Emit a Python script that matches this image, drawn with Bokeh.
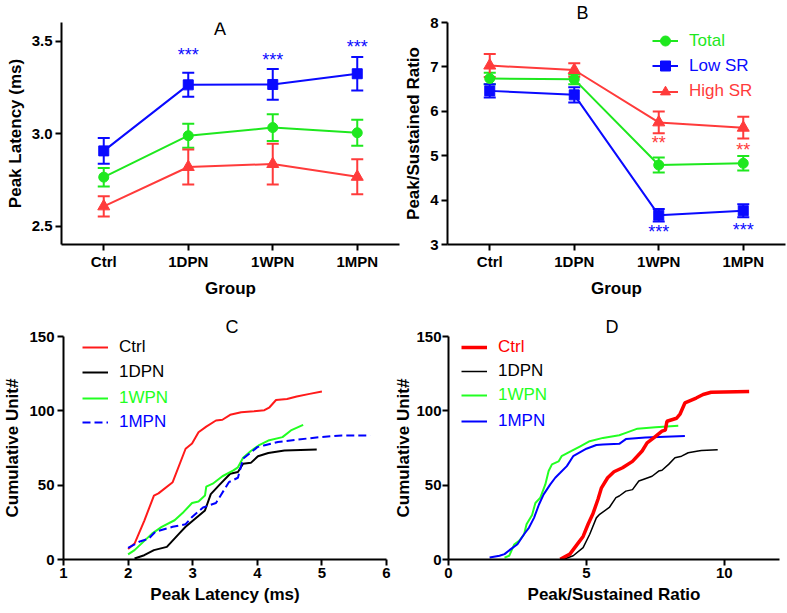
from bokeh.plotting import figure
from bokeh.models import (FactorRange, Range1d, FixedTicker, Whisker, TeeHead, ColumnDataSource,
                          Legend, LegendItem, Label, Title, PrintfTickFormatter)
from bokeh.layouts import column, row
from bokeh.embed import file_html
from bokeh.resources import INLINE
from bokeh.core.properties import value

FONT = "Liberation Sans"

# ---------------- data ----------------
groups = ["Ctrl", "1DPN", "1WPN", "1MPN"]

# Panel A: peak latency (ms), mean and SEM
lat_total = [2.764, 2.988, 3.032, 3.004]
lat_total_err = [0.05, 0.065, 0.072, 0.07]
lat_low = [2.906, 3.263, 3.265, 3.323]
lat_low_err = [0.07, 0.065, 0.083, 0.09]
lat_high = [2.606, 2.819, 2.835, 2.766]
lat_high_err = [0.055, 0.095, 0.11, 0.095]
lat_star_groups = ["1DPN", "1WPN", "1MPN"]
lat_star_y = [3.426, 3.399, 3.465]
lat_star_text = ["***", "***", "***"]

# Panel B: peak/sustained ratio, mean and SEM
ratio_total = [6.74, 6.72, 4.79, 4.83]
ratio_total_err = [0.13, 0.11, 0.17, 0.165]
ratio_low = [6.46, 6.37, 3.66, 3.76]
ratio_low_err = [0.15, 0.17, 0.14, 0.145]
ratio_high = [7.03, 6.93, 5.75, 5.63]
ratio_high_err = [0.26, 0.15, 0.245, 0.245]
ratio_star_high_groups = ["1WPN", "1MPN"]
ratio_star_high_y = [5.33, 5.18]
ratio_star_high_text = ["**", "**"]
ratio_star_low_groups = ["1WPN", "1MPN"]
ratio_star_low_y = [3.32, 3.37]
ratio_star_low_text = ["***", "***"]

# Panel C: cumulative units vs peak latency
c_ctrl_x = [2.0, 2.1, 2.25, 2.4, 2.47, 2.69, 2.89, 2.99, 3.09, 3.21, 3.36, 3.46, 3.58, 3.75, 3.95,
            4.11, 4.19, 4.29, 4.46, 4.61, 4.81, 5.0]
c_ctrl_y = [7, 10.7, 26, 43, 44.5, 52, 74.5, 78, 85.6, 89.4, 93.5, 94, 97.3, 99, 99.7,
            100.4, 102.4, 107.3, 108, 109.6, 111.4, 113]
c_1dpn_x = [2.1, 2.25, 2.4, 2.6, 2.79, 2.89, 3.01, 3.19, 3.28, 3.41, 3.58, 3.7, 3.78, 3.9, 4.01,
            4.17, 4.42, 4.92]
c_1dpn_y = [0.7, 2.9, 6.3, 8.5, 17.4, 22, 26.4, 33, 44, 50, 57.7, 58.8, 64.4, 65, 69.5,
            71.6, 73.3, 74]
c_1wpn_x = [2.0, 2.1, 2.37, 2.52, 2.72, 2.86, 2.99, 3.09, 3.19, 3.21, 3.31, 3.46, 3.63, 3.7, 3.78,
            3.9, 4.02, 4.17, 4.39, 4.52, 4.71]
c_1wpn_y = [3.4, 6.3, 17.4, 21.9, 26.4, 32, 38, 39, 43, 49, 51, 56, 60, 62, 68.4,
            73, 76.7, 80, 82.3, 86.8, 90.6]
c_1mpn_x = [2.0, 2.17, 2.32, 2.42, 2.69, 2.89, 2.99, 3.16, 3.36, 3.56, 3.7, 3.78, 3.9, 4.0, 4.1,
            4.32, 4.6, 4.96, 5.31, 5.75]
c_1mpn_y = [7.8, 11.9, 14, 18.6, 22, 23.7, 28.6, 35, 38, 52, 55, 67.8, 72, 75.6, 76.7,
            79, 80.5, 82.3, 83.4, 83.4]

# Panel D: cumulative units vs peak/sustained ratio
d_ctrl_x = [4.05, 4.4, 4.76, 4.88, 5.06, 5.24, 5.42, 5.54, 5.77, 6.0, 6.31, 6.67, 7.02, 7.2, 7.45,
            7.74, 7.86, 7.92, 8.27, 8.4, 8.57, 8.98, 9.23, 9.52, 10.9]
d_ctrl_y = [0.2, 3.6, 12.5, 15.5, 23.7, 31, 40.5, 48, 55, 59, 61.7, 66, 73, 78.5, 82,
            86.3, 87, 93, 95, 98, 105.3, 108.6, 111, 112.5, 113]
d_1dpn_x = [4.17, 4.52, 4.88, 5.12, 5.36, 5.48, 5.83, 6.07, 6.19, 6.43, 6.67, 6.9, 7.08, 7.38, 7.62,
            7.74, 7.98, 8.21, 8.45, 8.69, 9.05, 9.17, 9.76]
d_1dpn_y = [0.2, 2.5, 8, 17, 28, 30.4, 35, 41.6, 42.7, 46, 47, 52.8, 54, 56, 59.5,
            60, 64, 68.4, 69.5, 71.8, 73, 73.3, 73.8]
d_1wpn_x = [2.03, 2.2, 2.38, 2.56, 2.74, 2.83, 3.03, 3.15, 3.33, 3.51, 3.63, 3.75, 3.99, 4.1, 4.46,
            4.76, 5.12, 5.6, 6.19, 6.43, 6.85, 7.5, 8.33]
d_1wpn_y = [1.3, 2.5, 10, 12.5, 17, 23.7, 30, 38, 41.6, 50.5, 59.5, 64, 66, 69.5, 73,
            76, 79.6, 81.8, 83.6, 85.2, 88, 89, 90]
d_1mpn_x = [1.49, 1.85, 2.03, 2.26, 2.5, 2.74, 2.92, 3.1, 3.28, 3.45, 3.69, 3.87, 4.05, 4.29, 4.52,
            4.76, 5.0, 5.36, 5.6, 6.19, 6.43, 7.14, 8.57]
d_1mpn_y = [1.3, 2.5, 3.6, 7, 10.3, 17, 21.5, 28, 37, 43.8, 50.5, 55, 58.3, 62.8, 69.5,
            72, 74.5, 77, 77.4, 77.8, 81, 82, 83]

GREEN = "#1ee81e"
BLUE = "#0a0aff"
RED = "#ff3b3b"
C_RED = "#ff1a1a"
C_GREEN = "#22ff22"
C_BLUE = "#0000ff"


def style(p, xs_label=2, xs_axis=6, ys_label=3, ys_axis=4):
    p.outline_line_color = None
    p.xgrid.visible = False
    p.ygrid.visible = False
    p.background_fill_color = "white"
    for ax in (p.xaxis[0], p.yaxis[0]):
        ax.axis_line_width = 2
        ax.axis_line_color = "black"
        ax.major_tick_line_width = 2
        ax.major_tick_line_color = "black"
        ax.major_tick_out = 6
        ax.major_tick_in = 0
        ax.minor_tick_line_color = None
        ax.major_label_text_font = FONT
        ax.major_label_text_font_style = "bold"
        ax.major_label_text_font_size = "15px"
        ax.major_label_text_color = "black"
        ax.axis_label_text_font = FONT
        ax.axis_label_text_font_style = "bold"
        ax.axis_label_text_font_size = "17px"
        ax.axis_label_text_color = "black"
    p.yaxis[0].major_label_standoff = ys_label
    p.yaxis[0].axis_label_standoff = ys_axis
    p.xaxis[0].major_label_standoff = xs_label
    p.xaxis[0].axis_label_standoff = xs_axis


def panel_title(p, text, offset):
    p.add_layout(Title(text=text, align="left", offset=offset, standoff=0, text_font=FONT,
                       text_font_size="18px", text_font_style="normal", text_color="black"),
                 "above")


def series(p, x, y, err, color, marker, size):
    src = ColumnDataSource(dict(x=x, y=y, upper=[a + b for a, b in zip(y, err)],
                                lower=[a - b for a, b in zip(y, err)]))
    p.add_layout(Whisker(base="x", upper="upper", lower="lower", source=src, dimension="height",
                         line_color=color, line_width=2,
                         upper_head=TeeHead(size=12, line_color=color, line_width=2),
                         lower_head=TeeHead(size=12, line_color=color, line_width=2)))
    lr = p.line("x", "y", source=src, line_color=color, line_width=2)
    sr = p.scatter("x", "y", source=src, marker=marker, size=size, fill_color=color,
                   line_color=color)
    return lr, sr


def single_legend(p, label, renderers, color, loc, gh, gw=26):
    leg = Legend(items=[LegendItem(label=label, renderers=renderers)], location=loc,
                 label_text_color=color, label_text_font=FONT, label_text_font_size="17px",
                 glyph_width=gw, glyph_height=gh, label_standoff=11, padding=0, margin=0,
                 spacing=0, background_fill_alpha=0, border_line_alpha=0, label_height=gh)
    p.add_layout(leg)


# ---------------- Panel A ----------------
pA = figure(width=401, height=300, x_range=FactorRange(*groups), y_range=Range1d(2.4, 3.6),
            output_backend="svg", toolbar_location=None, title=None,
            min_border_left=61, min_border_right=2, min_border_top=20, min_border_bottom=55)
style(pA)
pA.yaxis[0].ticker = FixedTicker(ticks=[2.5, 3.0, 3.5])
pA.yaxis[0].formatter = PrintfTickFormatter(format="%.1f")
pA.xaxis[0].axis_label = "Group"
pA.yaxis[0].axis_label = "Peak Latency (ms)"
series(pA, groups, lat_total, lat_total_err, GREEN, "circle", 10)
series(pA, groups, lat_low, lat_low_err, BLUE, "square", 10)
series(pA, groups, lat_high, lat_high_err, RED, "triangle", 12)
pA.text(x=lat_star_groups, y=lat_star_y, text=lat_star_text, text_color=BLUE,
        text_font=value(FONT), text_font_size=value("18px"), text_align="center",
        text_baseline="alphabetic", y_offset=0)
pA.add_layout(Label(x=1.876, y=3.563, text="A", text_align="center", text_baseline="middle",
                    text_font=FONT, text_font_size="18px", text_color="black"))

# ---------------- Panel B ----------------
pB = figure(width=385, height=300, x_range=FactorRange(*groups), y_range=Range1d(3, 8),
            output_backend="svg", toolbar_location=None, title=None,
            min_border_left=44, min_border_right=1, min_border_top=20, min_border_bottom=55)
style(pB)
pB.yaxis[0].ticker = FixedTicker(ticks=[3, 4, 5, 6, 7, 8])
pB.xaxis[0].axis_label = "Group"
pB.yaxis[0].axis_label = "Peak/Sustained Ratio"
gt = series(pB, groups, ratio_total, ratio_total_err, GREEN, "circle", 10)
gl = series(pB, groups, ratio_low, ratio_low_err, BLUE, "square", 10)
gh_ = series(pB, groups, ratio_high, ratio_high_err, RED, "triangle", 12)
pB.text(x=ratio_star_high_groups, y=ratio_star_high_y, text=ratio_star_high_text, text_color=RED,
        text_font=value(FONT), text_font_size=value("18px"), text_align="center",
        text_baseline="alphabetic", y_offset=2)
pB.text(x=ratio_star_low_groups, y=ratio_star_low_y, text=ratio_star_low_text, text_color=BLUE,
        text_font=value(FONT), text_font_size=value("18px"), text_align="center",
        text_baseline="alphabetic", y_offset=2)
single_legend(pB, "Total", list(gt), GREEN, (205, 190.8), 25)
single_legend(pB, "Low SR", list(gl), BLUE, (205, 165.8), 25)
single_legend(pB, "High SR", list(gh_), RED, (205, 140.2), 25)
panel_title(pB, "B", 129)

# ---------------- Panel C ----------------
pC = figure(width=391, height=312, x_range=Range1d(1, 6), y_range=Range1d(0, 150),
            output_backend="svg", toolbar_location=None, title=None,
            min_border_left=61, min_border_right=5, min_border_top=36, min_border_bottom=53)
style(pC, xs_label=2, xs_axis=4)
pC.xaxis[0].ticker = FixedTicker(ticks=[1, 2, 3, 4, 5, 6])
pC.yaxis[0].ticker = FixedTicker(ticks=[0, 50, 100, 150])
pC.xaxis[0].axis_label = "Peak Latency (ms)"
pC.yaxis[0].axis_label = "Cumulative Unit#"
cr = pC.line(c_ctrl_x, c_ctrl_y, line_color=C_RED, line_width=2)
cb = pC.line(c_1dpn_x, c_1dpn_y, line_color="black", line_width=2)
cg = pC.line(c_1wpn_x, c_1wpn_y, line_color=C_GREEN, line_width=2)
cm = pC.line(c_1mpn_x, c_1mpn_y, line_color=C_BLUE, line_width=2, line_dash="8 4")
single_legend(pC, "Ctrl", [cr], "black", (19, 202), 20)
single_legend(pC, "1DPN", [cb], "black", (19, 177), 20)
single_legend(pC, "1WPN", [cg], C_GREEN, (19, 151.3), 20)
single_legend(pC, "1MPN", [cm], C_BLUE, (19, 126.8), 20)
panel_title(pC, "C", 162)

# ---------------- Panel D ----------------
pD = figure(width=395, height=312, x_range=Range1d(0, 12), y_range=Range1d(0, 150),
            output_backend="svg", toolbar_location=None, title=None,
            min_border_left=55, min_border_right=7, min_border_top=36, min_border_bottom=53)
style(pD, xs_label=2, xs_axis=4, ys_label=1, ys_axis=0)
pD.xaxis[0].ticker = FixedTicker(ticks=[0, 5, 10])
pD.yaxis[0].ticker = FixedTicker(ticks=[0, 50, 100, 150])
pD.xaxis[0].axis_label = "Peak/Sustained Ratio"
pD.yaxis[0].axis_label = "Cumulative Unit#"
dg = pD.line(d_1wpn_x, d_1wpn_y, line_color=C_GREEN, line_width=2)
dm = pD.line(d_1mpn_x, d_1mpn_y, line_color=C_BLUE, line_width=2)
db = pD.line(d_1dpn_x, d_1dpn_y, line_color="black", line_width=1.5)
dr = pD.line(d_ctrl_x, d_ctrl_y, line_color="#ff0000", line_width=3.5)
single_legend(pD, "Ctrl", [dr], "#ff0000", (13, 202), 20)
single_legend(pD, "1DPN", [db], "black", (13, 178.5), 20)
single_legend(pD, "1WPN", [dg], C_GREEN, (13, 154), 20)
single_legend(pD, "1MPN", [dm], C_BLUE, (13, 128.5), 20)
panel_title(pD, "D", 157)

layout = column(row(pA, pB), row(pC, pD))
open("out.html", "w").write(file_html(layout, INLINE))
